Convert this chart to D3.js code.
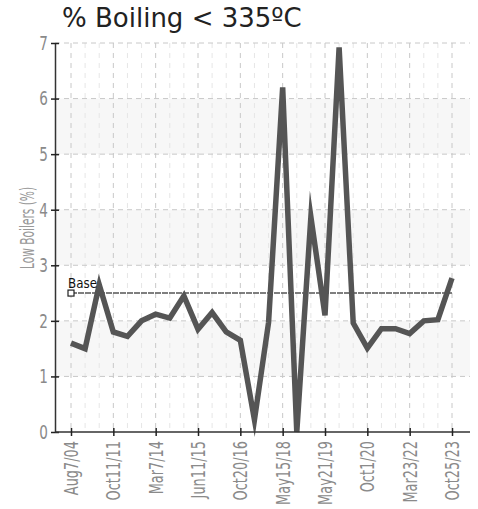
<!DOCTYPE html>
<html><head><meta charset="utf-8">
<script src="https://cdn.jsdelivr.net/npm/d3@7"></script>
<style>body{margin:0;background:#fff}</style>
</head><body>
<svg id="c" width="478" height="509"></svg>
<script>
const title = "% Boiling < 335ºC";
const yTitle = "Low Boilers (%)";
const dates = ["Aug7/04","","","Oct11/11","","","Mar7/14","","","Jun11/15","","","Oct20/16","","","May15/18","","","May21/19","","","Oct1/20","","","Mar23/22","","","Oct25/23"];
const values = [1.6,1.5,2.65,1.8,1.72,2.0,2.12,2.05,2.45,1.85,2.15,1.8,1.65,0.22,1.97,6.2,0.0,3.87,2.1,6.92,1.96,1.51,1.86,1.86,1.77,2.0,2.02,2.77];
const baseValue = 2.5;
const baseLabel = "Base";
const yTicks = [0,1,2,3,4,5,6,7];
const bands = [[1,2],[3,4],[5,6]];

const svg = d3.select("#c");
const L = 55, R = 470;
const x = d3.scaleLinear().domain([0, values.length-1]).range([71, 452]);
const y = d3.scaleLinear().domain([0,7]).range([432, 43]);
const font = "'DejaVu Sans',sans-serif";
const SX = 0.68;

// bands
svg.append("g").selectAll("rect").data(bands).join("rect")
  .attr("x", L).attr("width", R-L)
  .attr("y", d=>y(d[1])).attr("height", d=>y(d[0])-y(d[1]))
  .attr("fill", "#f7f7f7");

// vertical grid
svg.append("g").selectAll("line").data(d3.range(values.length)).join("line")
  .attr("x1", d=>x(d)).attr("x2", d=>x(d)).attr("y1", y(7)).attr("y2", y(0))
  .attr("stroke", d=> dates[d] ? "#c8c8c8" : "#e6e6e6")
  .attr("stroke-width", 1).attr("stroke-dasharray", "5,5");

// horizontal grid
svg.append("g").selectAll("line").data(yTicks.filter(d=>d>0)).join("line")
  .attr("x1", L).attr("x2", R).attr("y1", d=>y(d)).attr("y2", d=>y(d))
  .attr("stroke", "#c8c8c8").attr("stroke-width", 1).attr("stroke-dasharray", "5,4");

// base line
svg.append("line").attr("x1", x(0)).attr("x2", x(values.length-1))
  .attr("y1", y(baseValue)).attr("y2", y(baseValue))
  .attr("stroke", "#555").attr("stroke-width", 1.6).attr("stroke-dasharray", "6,1");
svg.append("rect").attr("x", x(0)-3).attr("y", y(baseValue)-3).attr("width", 6).attr("height", 6)
  .attr("fill", "#fff").attr("stroke", "#222").attr("stroke-width", 1.2);

// data line
svg.append("path").datum(values)
  .attr("d", d3.line().x((d,i)=>x(i)).y(d=>y(d)))
  .attr("fill", "none").attr("stroke", "#555").attr("stroke-width", 5.5)
  .attr("stroke-linejoin", "miter").attr("stroke-miterlimit", 10);

svg.append("text").attr("x", x(0)-3).attr("y", y(baseValue)-5).text(baseLabel)
  .attr("font-family", font).attr("font-size", 14).attr("fill", "#111")
  .attr("transform", `translate(${(x(0)-3)*(1-0.85)},0) scale(0.85,1)`);

// y axis
const ya = svg.append("g").attr("transform", `translate(${L},0)`)
  .call(d3.axisLeft(y).tickValues(yTicks).tickFormat(d3.format("d")).tickSize(0).tickPadding(8));
ya.select(".domain").attr("stroke", "#333").attr("stroke-width", 1.5);
ya.selectAll("text").attr("font-family", font).attr("font-size", 20).attr("fill", "#8a8a8a")
  .attr("x", -7/SX).attr("transform", `scale(${SX},1)`);
ya.selectAll(".tick").append("line").attr("x1", -4).attr("x2", 4).attr("stroke", "#222").attr("stroke-width", 1.5);

// x axis
const labIdx = d3.range(values.length).filter(i=>dates[i]);
const xa = svg.append("g").attr("transform", `translate(0,${y(0)})`)
  .call(d3.axisBottom(x).tickValues(labIdx).tickFormat(i=>dates[i]).tickSize(0));
xa.select(".domain").attr("d", `M${L},0H${R}`).attr("stroke", "#333").attr("stroke-width", 1.5);
xa.selectAll(".tick").append("line").attr("y1", -4).attr("y2", 4).attr("stroke", "#222").attr("stroke-width", 1.5);
xa.selectAll("text").attr("font-family", font).attr("font-size", 19).attr("fill", "#8a8a8a")
  .attr("transform", `rotate(-90) scale(${SX},1)`).attr("text-anchor", "end").attr("x", -9/SX).attr("y", 0).attr("dy", "0.35em");

// y title
svg.append("text").attr("transform", `translate(27,${(185+271)/2}) rotate(-90) scale(0.56,1)`)
  .attr("text-anchor", "middle").attr("dy", "0.35em").text(yTitle)
  .attr("font-family", font).attr("font-size", 19).attr("fill", "#999");

// title
svg.append("text").attr("x", 62).attr("y", 27).text(title)
  .attr("font-family", font).attr("font-size", 26).attr("fill", "#222");
</script>
</body></html>
